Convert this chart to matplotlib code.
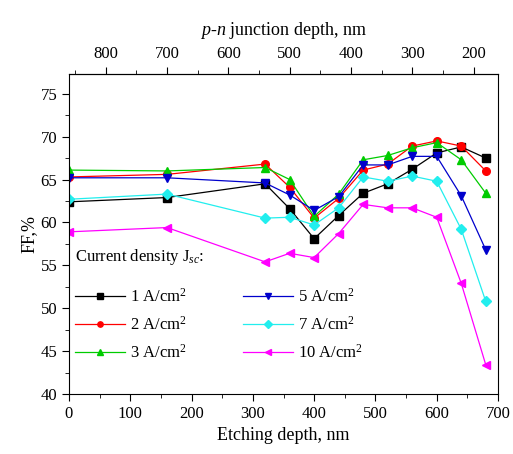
import matplotlib
matplotlib.use("Agg")
import matplotlib.pyplot as plt
from matplotlib.ticker import MultipleLocator, FixedLocator

plt.rcParams['font.family'] = ['Liberation Serif', 'DejaVu Serif']
plt.rcParams['mathtext.fontset'] = 'custom'
plt.rcParams['mathtext.rm'] = 'Liberation Serif'
plt.rcParams['mathtext.it'] = 'Liberation Serif:italic'

# etching depth, nm
etch = [0, 160, 320, 360, 400, 440, 480, 520, 560, 600, 640, 680]

# FF, % for each current density
ff_1 = [62.4, 62.9, 64.5, 61.6, 58.1, 60.8, 63.4, 64.5, 66.2, 68.1, 68.8, 67.5]
ff_2 = [65.3, 65.6, 66.8, 64.1, 60.5, 62.8, 66.1, 66.8, 68.9, 69.5, 68.9, 66.0]
ff_3 = [66.1, 66.0, 66.4, 65.0, 60.7, 63.3, 67.3, 67.8, 68.7, 69.3, 67.3, 63.4]
ff_5 = [65.2, 65.2, 64.6, 63.2, 61.4, 63.0, 66.7, 66.7, 67.7, 67.7, 63.1, 56.8]
ff_7 = [62.7, 63.3, 60.5, 60.6, 59.7, 61.7, 65.3, 64.8, 65.4, 64.8, 59.2, 50.8]
ff_10 = [58.9, 59.4, 55.4, 56.4, 55.9, 58.7, 62.1, 61.7, 61.7, 60.6, 52.9, 43.4]

labels = ['1 A/cm$^2$', '2 A/cm$^2$', '3 A/cm$^2$', '5 A/cm$^2$', '7 A/cm$^2$', '10 A/cm$^2$']
junction_ticks = [800, 700, 600, 500, 400, 300, 200]

# junction depth = total - etching depth
total_depth = 860

fig = plt.figure(figsize=(5.13, 4.54), dpi=100)
ax = fig.add_axes([0.1345, 0.1322, 0.8363, 0.7048])

series = [ff_1, ff_2, ff_3, ff_5, ff_7, ff_10]
colors = ['black', '#ff0000', '#00cc00', '#0000cc', '#22eeee', '#ff00ff']
markers = ['s', 'o', '^', 'v', 'D', '<']
for y, c, m, lab in zip(series, colors, markers, labels):
    ax.plot(etch, y, color=c, marker=m, markersize=5.5, linewidth=0.9, label=lab)

ax.set_xlim(0, 700)
ax.set_ylim(40, 77.3)
ax.xaxis.set_major_locator(MultipleLocator(100))
ax.xaxis.set_minor_locator(MultipleLocator(50))
ax.yaxis.set_major_locator(MultipleLocator(5))
ax.yaxis.set_minor_locator(MultipleLocator(2.5))
ax.tick_params(which='both', direction='out', labelsize=12, top=False, right=False)
ax.tick_params(which='major', length=5)
ax.tick_params(which='minor', length=3)
ax.set_xlabel('Etching depth, nm', fontsize=13)
ax.set_ylabel('FF,%', fontsize=13, labelpad=2)

top = ax.secondary_xaxis('top', functions=(lambda x: total_depth - x, lambda x: total_depth - x))
top.xaxis.set_major_locator(FixedLocator(junction_ticks))
top.xaxis.set_minor_locator(FixedLocator([850, 750, 650, 550, 450, 350, 250]))
top.tick_params(which='both', direction='out', labelsize=12)
top.tick_params(which='major', length=5)
top.tick_params(which='minor', length=3)
top.set_xlabel('$p$-$n$ junction depth, nm', fontsize=13, labelpad=8)

ax.text(0.014, 0.428, 'Current density J$_{sc}$:', transform=ax.transAxes,
        fontsize=12, ha='left', va='center')
leg = ax.legend(ncol=2, loc='lower left', bbox_to_anchor=(-0.01, 0.07), frameon=False,
                fontsize=12, handlelength=3.0, columnspacing=3.4, labelspacing=0.6,
                handletextpad=0.3, borderaxespad=0.2, markerscale=0.7)

fig.savefig('out.png', dpi=100)
